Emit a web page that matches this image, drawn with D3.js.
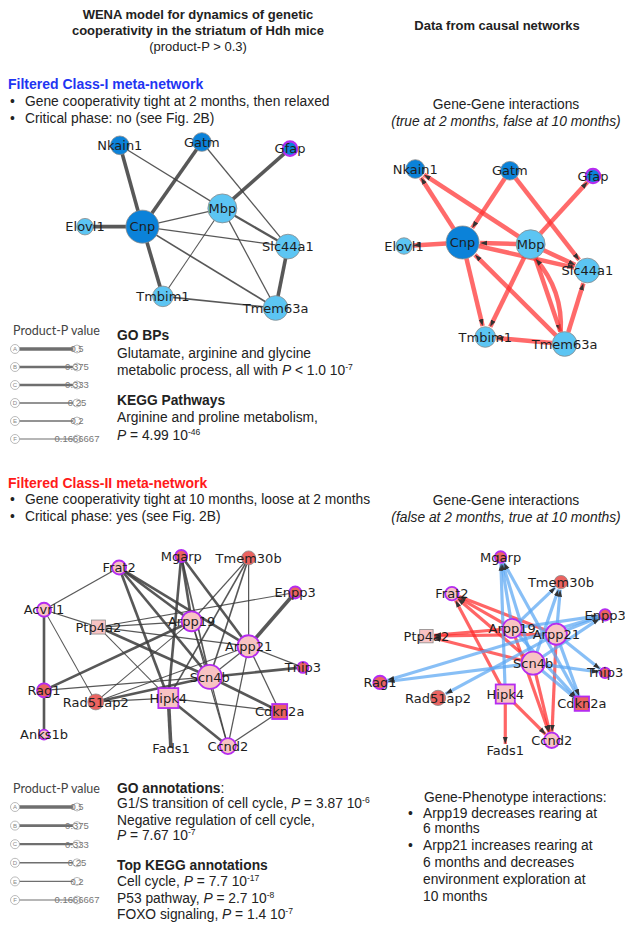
<!DOCTYPE html>
<html>
<head>
<meta charset="utf-8">
<script src="https://cdn.jsdelivr.net/npm/d3@7"></script>
<style>
  body { margin: 0; background: #fff; }
  text { font-family: "Liberation Sans", Arial, sans-serif; }
</style>
</head>
<body>
<div id="container"></div>
<script>
// ---- Class-I meta-network ----
const classIGenes = ["Nkain1", "Gatm", "Gfap", "Mbp", "Cnp", "Elovl1", "Slc44a1", "Tmbim1", "Tmem63a"];
const classIWeight = [32, 32, 19, 77, 100, 25, 56, 39, 56];
const classIGroup = ["dark", "dark", "dark", "light", "dark", "light", "light", "light", "light"];
const classIRing = [false, false, true, false, false, false, false, false, false];
const classILayoutWena = [[17, 2], [57, 0], [100, 4], [67, 40], [28, 51], [0, 51], [99, 63], [38, 93], [93, 100]];
const classILayoutCausal = [[6, 0], [56, 1], [100, 4], [67, 43], [31, 42], [0, 44], [97, 58], [43, 96], [85, 100]];
const classIEdges = [
  ["Nkain1", "Cnp", 0.5], ["Nkain1", "Mbp", 0.2], ["Gatm", "Cnp", 0.5], ["Gatm", "Slc44a1", 0.2],
  ["Gfap", "Mbp", 0.5], ["Elovl1", "Cnp", 0.5], ["Cnp", "Mbp", 0.2], ["Cnp", "Slc44a1", 0.2],
  ["Cnp", "Tmbim1", 0.5], ["Cnp", "Tmem63a", 0.25], ["Mbp", "Slc44a1", 0.333], ["Mbp", "Tmbim1", 0.1666667],
  ["Mbp", "Tmem63a", 0.2], ["Slc44a1", "Tmem63a", 0.5], ["Tmbim1", "Tmem63a", 0.25]
];
const classICausal = [
  ["Cnp", "Nkain1"], ["Mbp", "Nkain1"], ["Gatm", "Cnp"], ["Gatm", "Slc44a1"], ["Mbp", "Gfap"],
  ["Cnp", "Elovl1"], ["Mbp", "Cnp"], ["Cnp", "Slc44a1"], ["Mbp", "Slc44a1"], ["Cnp", "Tmbim1"],
  ["Mbp", "Tmbim1"], ["Tmem63a", "Cnp"], ["Mbp", "Tmem63a"], ["Tmem63a", "Mbp"],
  ["Tmem63a", "Slc44a1"], ["Tmem63a", "Tmbim1"]
];

// ---- Class-II meta-network ----
const classIIGenes = ["Frat2", "Mgarp", "Tmem30b", "Enpp3", "Acvrl1", "Ptp4a2", "Arpp19", "Arpp21", "Tnip3",
  "Scn4b", "Rag1", "Rad51ap2", "Hipk4", "Cdkn2a", "Anks1b", "Fads1", "Ccnd2"];
const classIIWeight = [34, 25, 34, 25, 34, 34, 69, 84, 21, 100, 34, 44, 69, 39, 17, 0, 44];
const classIIGroup = ["pink", "red", "red", "red", "pink", "pink", "pink", "pink", "red",
  "pink", "red", "red", "pink", "red", "pink", "pink", "pink"];
const classIIRing = [true, true, false, true, true, false, true, true, true,
  true, true, false, true, true, true, false, true];
const classIIShape = ["circle", "circle", "circle", "circle", "circle", "square", "circle", "circle", "circle",
  "circle", "circle", "circle", "square", "square", "circle", "circle", "circle"];
const classIILayoutWena = [[29, 6], [53, 0], [79, 1], [97, 19], [0, 28], [21, 37], [57, 34], [79, 47], [100, 58],
  [64, 63], [0, 70], [20, 76], [48, 74], [91, 81], [0, 93], [49, 100], [71, 99]];
const classIILayoutCausal = [[31, 19], [52, 0], [78, 13], [97, 30], [0, 0], [20, 41], [57, 37], [76, 40], [97, 60],
  [66, 55], [0, 65], [25, 73], [54, 71], [87, 76], [0, 0], [54, 100], [74, 95]];
const classIIEdges = [
  ["Frat2", "Acvrl1", 0.2], ["Frat2", "Arpp19", 0.375], ["Frat2", "Arpp21", 0.375], ["Frat2", "Scn4b", 0.375],
  ["Frat2", "Hipk4", 0.375], ["Mgarp", "Arpp19", 0.375], ["Mgarp", "Hipk4", 0.375], ["Mgarp", "Scn4b", 0.25],
  ["Mgarp", "Arpp21", 0.375], ["Tmem30b", "Arpp19", 0.2], ["Tmem30b", "Scn4b", 0.25], ["Tmem30b", "Arpp21", 0.2],
  ["Tmem30b", "Hipk4", 0.25], ["Enpp3", "Arpp21", 0.5], ["Enpp3", "Ptp4a2", 0.1666667], ["Acvrl1", "Ptp4a2", 0.2],
  ["Acvrl1", "Rag1", 0.375], ["Acvrl1", "Rad51ap2", 0.1666667], ["Ptp4a2", "Arpp19", 0.2], ["Ptp4a2", "Arpp21", 0.2],
  ["Ptp4a2", "Scn4b", 0.375], ["Ptp4a2", "Hipk4", 0.1666667], ["Arpp19", "Rag1", 0.375], ["Arpp19", "Rad51ap2", 0.1666667],
  ["Arpp19", "Scn4b", 0.2], ["Arpp19", "Ccnd2", 0.2], ["Arpp21", "Scn4b", 0.2], ["Arpp21", "Tnip3", 0.2],
  ["Arpp21", "Rad51ap2", 0.1666667], ["Arpp21", "Ccnd2", 0.2], ["Arpp21", "Cdkn2a", 0.2], ["Scn4b", "Rag1", 0.2],
  ["Scn4b", "Tnip3", 0.375], ["Scn4b", "Rad51ap2", 0.375], ["Scn4b", "Cdkn2a", 0.375], ["Scn4b", "Ccnd2", 0.2],
  ["Rag1", "Anks1b", 0.375], ["Rad51ap2", "Hipk4", 0.2], ["Hipk4", "Cdkn2a", 0.2], ["Hipk4", "Fads1", 0.5],
  ["Hipk4", "Ccnd2", 0.375], ["Cdkn2a", "Ccnd2", 0.2]
];
const classIICausal = [
  ["Arpp19", "Frat2", "up"], ["Arpp21", "Frat2", "up"], ["Scn4b", "Frat2", "up"], ["Hipk4", "Frat2", "up"],
  ["Arpp19", "Ptp4a2", "up"], ["Arpp21", "Ptp4a2", "up"], ["Scn4b", "Ptp4a2", "up"],
  ["Hipk4", "Fads1", "up"], ["Hipk4", "Ccnd2", "up"], ["Scn4b", "Ccnd2", "up"], ["Arpp19", "Ccnd2", "up"],
  ["Arpp21", "Ccnd2", "up"],
  ["Hipk4", "Mgarp", "down"], ["Scn4b", "Mgarp", "down"], ["Arpp19", "Mgarp", "down"], ["Cdkn2a", "Mgarp", "down"],
  ["Arpp19", "Tmem30b", "down"], ["Scn4b", "Tmem30b", "down"], ["Arpp21", "Tmem30b", "down"],
  ["Arpp19", "Enpp3", "down"], ["Arpp21", "Enpp3", "down"], ["Scn4b", "Enpp3", "down"], ["Enpp3", "Rag1", "down"],
  ["Scn4b", "Rag1", "down"], ["Arpp21", "Rad51ap2", "down"], ["Scn4b", "Tnip3", "down"], ["Arpp21", "Tnip3", "down"],
  ["Scn4b", "Cdkn2a", "down"], ["Arpp21", "Cdkn2a", "down"], ["Arpp19", "Cdkn2a", "down"]
];
const classIICausalGenes = ["Frat2", "Mgarp", "Tmem30b", "Enpp3", "Ptp4a2", "Arpp19", "Arpp21", "Tnip3",
  "Scn4b", "Rag1", "Rad51ap2", "Hipk4", "Cdkn2a", "Fads1", "Ccnd2"];

// ---- legend ----
const legendLetters = ["A", "B", "C", "D", "E", "F"];
const legendValues = [0.5, 0.375, 0.333, 0.25, 0.2, 0.1666667];
const legendLabels = ["0.5", "0.375", "0.333", "0.25", "0.2", "0.1666667"];

const fills = { dark: "#0b82d9", light: "#5cc5f3", pink: "#f8c3c3", red: "#ea6360" };
const ringColor = "#b42cf0";
const labelFont = '"DejaVu Sans", sans-serif';
const bodySize = 13.8;
const rightX = 506;
const titleX = 198;

const svg = d3.select("#container").append("svg").attr("width", 625).attr("height", 925);
const defs = svg.append("defs");
defs.append("marker").attr("id", "arrow").attr("viewBox", "0 0 10 10")
  .attr("refX", 10).attr("refY", 5).attr("markerWidth", 7).attr("markerHeight", 7)
  .attr("markerUnits", "userSpaceOnUse").attr("orient", "auto")
  .append("path").attr("d", "M0,1.5L10,5L0,8.5Z").attr("fill", "#333");

const edgeWidth = d3.scaleLinear().domain([1 / 6, 0.5]).range([1, 3.6]);

function layoutNodes(genes, layout, weight, group, ring, shape, xr, yr, rMax, keep) {
  const x = d3.scaleLinear().domain([0, 100]).range(xr);
  const y = d3.scaleLinear().domain([0, 100]).range(yr);
  const r = d3.scaleSqrt().domain([0, 100]).range([0, rMax]);
  const nodes = genes.map((g, i) => ({
    id: g, x: x(layout[i][0]), y: y(layout[i][1]), r: r(weight[i]),
    fill: fills[group[i]], ring: ring[i], shape: shape ? shape[i] : "circle"
  })).filter(n => !keep || keep.includes(n.id));
  return { nodes, byId: new Map(nodes.map(n => [n.id, n])) };
}

function drawNodes(g, nodes, ringW) {
  const ng = g.append("g");
  nodes.filter(n => n.r > 0).forEach(n => {
    const stroke = n.ring ? ringColor : "#8a8a8a";
    const sw = n.ring ? ringW : 0.8;
    if (n.shape === "square") {
      ng.append("rect").attr("x", n.x - n.r).attr("y", n.y - n.r).attr("width", 2 * n.r).attr("height", 2 * n.r)
        .attr("fill", n.fill).attr("stroke", stroke).attr("stroke-width", sw);
    } else {
      ng.append("circle").attr("cx", n.x).attr("cy", n.y).attr("r", n.r)
        .attr("fill", n.fill).attr("stroke", stroke).attr("stroke-width", sw);
    }
  });
  g.append("g").selectAll("text").data(nodes).join("text")
    .attr("x", d => d.x).attr("y", d => d.y).attr("dy", "0.36em")
    .attr("text-anchor", "middle").style("font-family", labelFont)
    .attr("font-size", 13).attr("fill", "#1e1e1e").text(d => d.id);
}

function drawUndirected(net, edges, ringW) {
  const g = svg.append("g");
  g.append("g").selectAll("line").data(edges).join("line")
    .attr("x1", d => net.byId.get(d[0]).x).attr("y1", d => net.byId.get(d[0]).y)
    .attr("x2", d => net.byId.get(d[1]).x).attr("y2", d => net.byId.get(d[1]).y)
    .attr("stroke", "#3b3b3b").attr("stroke-opacity", 0.85)
    .attr("stroke-width", d => edgeWidth(d[2]));
  drawNodes(g, net.nodes, ringW);
}

function drawDirected(net, edges, colorOf, w, ringW) {
  const g = svg.append("g");
  const seen = new Set();
  const eg = g.append("g");
  edges.forEach(e => {
    const s = net.byId.get(e[0]), t = net.byId.get(e[1]);
    const reverse = seen.has(e[1] + ">" + e[0]);
    seen.add(e[0] + ">" + e[1]);
    const dx = t.x - s.x, dy = t.y - s.y, len = Math.hypot(dx, dy);
    const ux = dx / len, uy = dy / len;
    const tr = t.r > 0 ? t.r + 1 : 6;
    const x1 = s.x + ux * s.r, y1 = s.y + uy * s.r;
    const x2 = t.x - ux * tr, y2 = t.y - uy * tr;
    let d;
    if (reverse) {
      const cx = (x1 + x2) / 2 - uy * 16, cy = (y1 + y2) / 2 + ux * 16;
      d = `M${x1},${y1}Q${cx},${cy} ${x2},${y2}`;
    } else {
      d = `M${x1},${y1}L${x2},${y2}`;
    }
    eg.append("path").attr("d", d).attr("fill", "none")
      .attr("stroke", colorOf(e)).attr("stroke-opacity", 0.72).attr("stroke-width", w)
      .attr("marker-end", "url(#arrow)");
  });
  drawNodes(g, net.nodes, ringW);
}

function richText(x, y, segs, o = {}) {
  const t = svg.append("text").attr("x", x).attr("y", y)
    .attr("font-size", o.size || bodySize).attr("fill", o.fill || "#222")
    .attr("text-anchor", o.anchor || "start");
  if (o.bold) t.attr("font-weight", "bold");
  if (o.italic) t.attr("font-style", "italic");
  segs.forEach(s => {
    if (typeof s === "string") t.append("tspan").text(s);
    else if (s.i) t.append("tspan").attr("font-style", "italic").text(s.i);
    else if (s.n) t.append("tspan").attr("font-weight", "normal").text(s.n);
    else if (s.sup) t.append("tspan").attr("baseline-shift", "super").attr("font-size", "0.62em").text(s.sup);
  });
  return t;
}

function bullet(x, y, str) {
  richText(x, y, ["•"]);
  richText(x + 15, y, [str]);
}

function drawLegend(x0, yTop, yBottom) {
  const g = svg.append("g");
  const y = d3.scalePoint().domain(legendLetters).range([yTop, yBottom]);
  g.append("text").attr("x", x0 - 2).attr("y", yTop - 14).attr("font-size", 12.5)
    .style("font-family", "Lato, sans-serif").attr("fill", "#444").text("Product-P value");
  const rows = g.selectAll("g").data(legendLetters).join("g")
    .attr("transform", d => `translate(0,${y(d)})`);
  rows.append("line").attr("x1", x0 + 4).attr("x2", x0 + 61)
    .attr("stroke", "#6f6f6f").attr("stroke-width", (d, i) => edgeWidth(legendValues[i]));
  rows.append("circle").attr("cx", x0).attr("r", 4.5).attr("fill", "#fff").attr("stroke", "#aaa").attr("stroke-width", 0.8);
  rows.append("text").attr("x", x0).attr("dy", "0.35em").attr("text-anchor", "middle")
    .attr("font-size", 6).attr("fill", "#888").text(d => d);
  rows.append("circle").attr("cx", x0 + 62).attr("r", 4).attr("fill", "#fff").attr("stroke", "#aaa").attr("stroke-width", 0.8);
  rows.append("text").attr("x", x0 + 62).attr("dy", "0.35em").attr("text-anchor", "middle")
    .attr("font-size", 9.5).attr("fill", "#777").text((d, i) => legendLabels[i]);
}

// ---- headers ----
richText(titleX, 19, ["WENA model for dynamics of genetic"], { bold: true, anchor: "middle", size: 13 });
richText(titleX, 35, ["cooperativity in the striatum of Hdh mice"], { bold: true, anchor: "middle", size: 13 });
richText(titleX, 51, ["(product-P > 0.3)"], { anchor: "middle", size: 13 });
richText(497, 30, ["Data from causal networks"], { bold: true, anchor: "middle", size: 13 });

// ---- Class-I ----
richText(8, 89, ["Filtered Class-I meta-network"], { bold: true, fill: "#1f35f2", size: 14 });
bullet(10, 106, "Gene cooperativity tight at 2 months, then relaxed");
bullet(10, 123, "Critical phase: no (see Fig. 2B)");
richText(rightX, 109, ["Gene-Gene interactions"], { anchor: "middle" });
richText(rightX, 126, ["(true at 2 months, false at 10 months)"], { anchor: "middle", italic: true });

const netIA = layoutNodes(classIGenes, classILayoutWena, classIWeight, classIGroup, classIRing, null,
  [85, 290], [142, 308], 16.5);
drawUndirected(netIA, classIEdges, 2.2);
const netIB = layoutNodes(classIGenes, classILayoutCausal, classIWeight, classIGroup, classIRing, null,
  [404, 593], [169, 344], 16.5);
drawDirected(netIB, classICausal, () => "#ff3030", 4.5, 2.2);

drawLegend(15, 349, 439);
richText(117, 340, ["GO BPs"], { bold: true });
richText(117, 358, ["Glutamate, arginine and glycine"]);
richText(117, 375, ["metabolic process, all with ", { i: "P" }, " < 1.0 10", { sup: "-7" }]);
richText(117, 405, ["KEGG Pathways"], { bold: true });
richText(117, 422, ["Arginine and proline metabolism,"]);
richText(117, 440, [{ i: "P" }, " = 4.99 10", { sup: "-46" }]);

// ---- Class-II ----
richText(8, 488, ["Filtered Class-II meta-network"], { bold: true, fill: "#ff1a1a", size: 14 });
bullet(10, 504, "Gene cooperativity tight at 10 months, loose at 2 months");
bullet(10, 521, "Critical phase: yes (see Fig. 2B)");
richText(rightX, 505, ["Gene-Gene interactions"], { anchor: "middle" });
richText(rightX, 522, ["(false at 2 months, true at 10 months)"], { anchor: "middle", italic: true });

const netIIA = layoutNodes(classIIGenes, classIILayoutWena, classIIWeight, classIIGroup, classIIRing, classIIShape,
  [44, 303], [556, 748], 12);
drawUndirected(netIIA, classIIEdges, 1.8);
const netIIB = layoutNodes(classIIGenes, classIILayoutCausal, classIIWeight, classIIGroup, classIIRing, classIIShape,
  [380, 612], [557, 750], 11.5, classIICausalGenes);
drawDirected(netIIB, classIICausal, e => (e[2] === "up" ? "#ff2a2a" : "#5aa6f2"), 3.2, 1.8);

drawLegend(15, 807, 900);
richText(117, 793, ["GO annotations", { n: ":" }], { bold: true });
richText(117, 808, ["G1/S transition of cell cycle, ", { i: "P" }, " = 3.87 10", { sup: "-6" }]);
richText(117, 825, ["Negative regulation of cell cycle,"]);
richText(117, 840, [{ i: "P" }, " = 7.67 10", { sup: "-7" }]);
richText(117, 870, ["Top KEGG annotations"], { bold: true });
richText(117, 886, ["Cell cycle, ", { i: "P" }, " = 7.7 10", { sup: "-17" }]);
richText(117, 903, ["P53 pathway, ", { i: "P" }, " = 2.7 10", { sup: "-8" }]);
richText(117, 919, ["FOXO signaling, ", { i: "P" }, " = 1.4 10", { sup: "-7" }]);

richText(424, 802, ["Gene-Phenotype interactions:"]);
bullet(408, 818, "Arpp19 decreases rearing at");
richText(423, 833, ["6 months"]);
bullet(408, 850, "Arpp21 increases rearing at");
richText(423, 867, ["6 months and decreases"]);
richText(423, 884, ["environment exploration at"]);
richText(423, 901, ["10 months"]);
</script>
</body>
</html>
